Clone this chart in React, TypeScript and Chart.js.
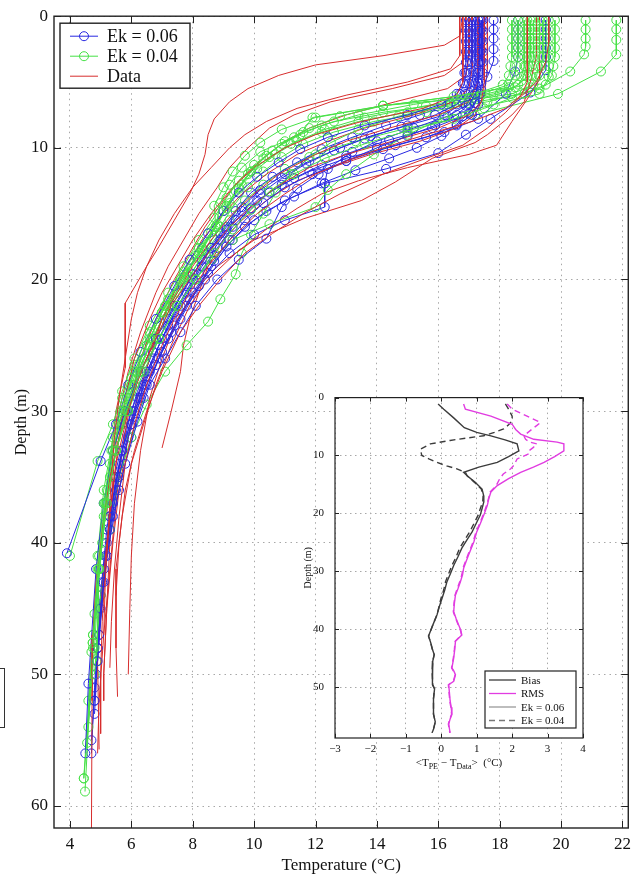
import React, { useEffect, useRef } from "react";
import { Chart, registerables } from "chart.js";

Chart.register(...registerables);

// Each profile point is [depth (m), temperature (°C)]
type Pt = [number, number];

const tempTicks = [4, 6, 8, 10, 12, 14, 16, 18, 20, 22];
const depthTicks = [0, 10, 20, 30, 40, 50, 60];

// Model profiles, Ek = 0.06
const ek06Profiles: Pt[][] = [
  [[0.3,17.2],[1,17.2],[1.8,17.2],[2.6,17.2],[3.4,17.2],[4.2,17.15],[5,17.1],[5.8,17.0],[6.6,16.8],[7.5,16.2],[8.3,15.0],[9.1,13.8],[10,12.8],[11,11.8],[12,11.0],[13.2,10.2],[14.5,9.6],[16,9.1],[18,8.5],[20,8.0],[22.5,7.4],[25,6.9],[28,6.4],[31,6.0],[35,5.5],[40,5.2],[47,4.95],[52,4.8]],
  [[0.3,17.0],[1.1,17.0],[1.9,17.0],[2.7,17.0],[3.5,16.95],[4.3,16.9],[5.1,16.85],[5.9,16.7],[6.7,16.3],[7.5,15.4],[8.3,14.3],[9.2,13.2],[10.1,12.2],[11.1,11.4],[12.2,10.6],[13.4,9.9],[14.8,9.4],[16.5,8.9],[18.5,8.3],[20.5,7.8],[23,7.2],[25.5,6.7],[28.5,6.2],[31.5,5.8],[35,5.45],[39,5.2],[45,4.95],[51,4.8],[56,4.7]],
  [[0.3,17.4],[1,17.4],[1.8,17.4],[2.6,17.4],[3.4,17.4],[4.2,17.35],[5,17.3],[5.8,17.25],[6.6,17.2],[7.4,17.0],[8.2,16.6],[9.1,16.1],[10,15.3],[10.8,14.4],[11.7,13.3],[12.7,12.2],[13.7,11.3],[14.8,10.4],[16,9.7],[17.5,9.1],[19.5,8.5],[21.5,7.9],[24,7.3],[26.5,6.8],[29,6.3],[32,5.9],[36,5.5],[41,5.15],[48,4.9],[55,4.7]],
  [[0.3,19.5],[1,19.5],[1.7,19.5],[2.4,19.5],[3.1,19.5],[4.1,19.5],[5.8,19.0],[7.8,17.7],[9,16.9],[10.4,16.0],[11.6,14.3],[12.7,12.3],[14,11.0],[15.5,10.0],[17,9.3],[19,8.6],[21,8.0],[23.5,7.4],[26,6.9],[29,6.4],[32,6.0],[36,5.6],[41,5.2],[47,4.95],[53,4.8]],
  [[0.3,18.6],[1,18.6],[1.7,18.6],[2.4,18.6],[3.1,18.6],[4.2,18.5],[5.9,18.2],[7.8,17.3],[8.8,16.2],[9.8,14.6],[10.8,13.0],[11.8,11.8],[12.8,10.9],[14,10.1],[15.5,9.4],[17,8.9],[19,8.3],[21,7.8],[23.5,7.2],[26,6.7],[29,6.2],[33,5.7],[38,5.3],[44,5.0],[50,4.85]],
  [[0.3,17.8],[1,17.8],[1.7,17.8],[2.5,17.8],[3.4,17.8],[4.6,17.6],[5.6,17.4],[6.6,17.2],[7.6,16.8],[8.5,15.8],[9.4,14.4],[10.3,13.2],[11.3,12.2],[12.3,11.3],[13.4,10.5],[14.6,9.9],[16,9.3],[17.6,8.8],[19.6,8.2],[22,7.6],[24.5,7.0],[27,6.5],[30,6.0],[34,5.6],[38,5.3],[43,5.05],[48,4.9]],
  [[0.3,17.3],[1.1,17.3],[1.9,17.3],[2.7,17.3],[3.5,17.3],[4.3,17.25],[5.1,17.2],[6,17.1],[6.8,16.9],[7.6,16.3],[8.5,15.2],[9.5,14.0],[10.6,13.0],[11.6,12.4],[12.7,12.3],[14.5,12.3],[15.5,11.0],[16.6,10.0],[18,9.2],[20,8.4],[22,7.8],[24.5,7.2],[27,6.6],[30,6.1],[33,5.7],[37,5.4],[42,5.1],[48,4.9]],
  [[0.3,16.9],[1.1,16.9],[1.9,16.9],[2.7,16.9],[3.5,16.9],[4.3,16.85],[5.1,16.8],[5.9,16.6],[6.7,16.1],[7.5,15.0],[8.3,13.6],[9.2,12.4],[10.1,11.5],[11.1,10.8],[12.2,10.1],[13.4,9.5],[14.8,9.0],[16.5,8.5],[18.5,7.9],[20.5,7.4],[23,6.8],[25.5,6.3],[28,5.9],[31,5.5],[33.8,5.0],[40.8,3.9]],
  [[0.3,17.1],[1.1,17.1],[1.9,17.1],[2.7,17.1],[3.5,17.1],[4.3,17.05],[5.1,17.0],[5.9,16.9],[6.7,16.6],[7.5,15.9],[8.4,14.8],[9.3,13.6],[10.2,12.6],[11.2,11.7],[12.3,10.9],[13.5,10.2],[14.8,9.6],[16.2,9.1],[17.6,8.6],[19.6,8.0],[22,7.4],[24.5,6.8],[27,6.3],[30,5.8],[33,5.4],[37,5.1],[42,4.85],[50.7,4.6],[56,4.5]],
  [[0.3,17.45],[1.1,17.45],[1.9,17.45],[2.7,17.45],[3.5,17.45],[4.3,17.45],[5.1,17.4],[5.9,17.35],[6.7,17.3],[7.5,17.1],[8.3,16.6],[9.2,15.6],[10.1,14.2],[11,13.0],[12,11.9],[13,11.0],[14.2,10.3],[15.5,9.7],[17,9.2],[18.6,8.7],[20.5,8.2],[23,7.6],[25.5,7.0],[28,6.5],[31,6.0],[35,5.6],[39,5.3],[45,5.0],[52,4.8]],
  [[0.3,17.35],[1.1,17.35],[1.9,17.35],[2.7,17.35],[3.5,17.35],[4.3,17.3],[5.1,17.3],[5.9,17.2],[6.7,17.0],[7.5,16.6],[8.3,15.9],[9.1,15.0],[10,14.0],[11,13.0],[12,12.1],[13.1,11.4],[14.5,10.9],[16.9,10.4],[18.5,9.5],[20,8.8],[22,8.1],[24,7.6],[26,7.1],[28,6.6],[30.8,6.2],[34,5.8],[38,5.4],[43,5.1],[49,4.9]],
];

// Model profiles, Ek = 0.04
const ek04Profiles: Pt[][] = [
  [[0.3,21.8],[1,21.8],[1.8,21.8],[2.9,21.8],[4.2,21.3],[5.9,19.9],[7.5,17.2],[8.5,15.0],[9.5,13.3],[10.5,12.0],[11.6,11.0],[12.8,10.3],[14,9.7],[15.5,9.2],[17,8.7],[19,8.1],[21,7.5],[23.5,6.9],[26,6.4],[29,5.9],[32,5.5],[36,5.2],[41,4.95],[47,4.75],[52,4.6]],
  [[0.3,20.8],[1,20.8],[1.7,20.8],[2.3,20.8],[2.9,20.75],[4.2,20.3],[5.5,19.3],[6.5,17.6],[7.3,15.6],[8,13.9],[8.8,12.6],[9.7,11.6],[10.7,10.9],[11.8,10.3],[13,9.8],[14.5,9.3],[16,8.9],[17.8,8.4],[19.8,7.9],[22,7.3],[24.5,6.8],[27,6.3],[30,5.9],[33,5.5],[37,5.2],[42,4.95],[48.3,4.7],[55.2,4.56]],
  [[0.3,19.8],[1,19.8],[1.7,19.8],[2.4,19.8],[3.1,19.8],[3.8,19.75],[4.5,19.7],[5.2,19.5],[5.9,18.8],[6.6,17.0],[7.3,15.0],[8,13.4],[8.8,12.2],[9.7,11.2],[10.7,10.5],[11.8,9.9],[13,9.5],[14.4,9.1],[16,8.75],[18,8.2],[20,7.7],[22.5,7.1],[25,6.6],[28,6.1],[31,5.7],[35,5.3],[40,5.05],[47.6,4.74],[57.9,4.45]],
  [[0.3,19.4],[1,19.4],[1.7,19.4],[2.4,19.4],[3.1,19.4],[3.8,19.35],[4.5,19.3],[5.2,19.1],[5.9,18.4],[6.6,16.4],[7.3,14.2],[8,12.6],[8.8,11.6],[9.7,10.9],[10.8,10.3],[12,9.8],[13.3,9.4],[14.8,9.0],[16.4,8.6],[18.2,8.1],[20.2,7.6],[22.5,7.0],[25,6.5],[28,6.0],[31,5.6],[34,5.3],[38,5.1],[45.4,4.8],[58.9,4.49]],
  [[0.3,19.1],[1,19.1],[1.7,19.1],[2.4,19.1],[3.1,19.1],[3.8,19.05],[4.5,19.0],[5.2,18.8],[5.9,17.8],[6.8,15.6],[7.7,13.6],[8.6,12.3],[9.5,11.4],[10.5,10.7],[11.6,10.1],[12.8,9.6],[14.2,9.2],[15.8,8.8],[17.6,8.3],[19.6,7.8],[22,7.2],[24.5,6.7],[27,6.2],[30,5.8],[33,5.4],[37,5.15],[42,4.95],[49,4.87]],
  [[0.3,18.9],[1,18.9],[1.7,18.9],[2.4,18.9],[3.1,18.9],[3.8,18.85],[4.5,18.8],[5.2,18.6],[5.9,18.0],[6.7,16.4],[7.6,14.7],[8.6,13.4],[9.6,12.5],[10.7,11.8],[12,11.2],[13.4,10.7],[15,10.3],[16.6,9.9],[18,9.6],[19.6,9.4],[21.5,8.9],[23.2,8.5],[25,7.8],[27,7.1],[29.5,6.5],[32,6.0],[35,5.6],[39,5.3],[44,5.0],[50,4.8]],
  [[0.3,18.6],[1,18.6],[1.7,18.6],[2.4,18.6],[3.1,18.6],[3.8,18.55],[4.5,18.5],[5.2,18.3],[5.9,17.4],[6.7,15.2],[7.5,13.4],[8.3,12.2],[9.2,11.3],[10.2,10.6],[11.3,10.0],[12.5,9.5],[13.8,9.1],[15.3,8.7],[17,8.2],[19,7.7],[21,7.2],[23.5,6.6],[26,6.1],[28.5,5.7],[31,5.4],[33.8,4.9],[41,4.0]],
  [[0.3,18.4],[1,18.4],[1.7,18.4],[2.4,18.4],[3.1,18.4],[3.8,18.35],[4.5,18.3],[5.2,18.1],[5.9,17.2],[6.8,14.2],[7.7,12.0],[8.6,10.9],[9.6,10.2],[10.6,9.7],[11.8,9.3],[13,9.0],[14.4,8.7],[16,8.75],[17.6,8.2],[19.4,7.7],[21.5,7.2],[24,6.6],[26.5,6.1],[29,5.7],[32,5.4],[36,5.1],[41,4.9],[47,4.75],[54,4.6]],
  [[0.3,19.6],[1,19.6],[1.7,19.6],[2.4,19.6],[3.1,19.6],[3.8,19.6],[4.6,19.6],[5.9,19.3],[6.7,17.8],[7.7,16.2],[9,15.0],[10.5,13.9],[12,13.0],[13.2,12.4],[14.5,12.0],[15.8,10.5],[17,9.3],[18.5,8.6],[20,8.1],[22,7.5],[24.5,6.9],[27,6.4],[30,5.9],[33,5.5],[37,5.2],[42,4.95],[48,4.75]],
  [[0.3,19.0],[1,19.0],[1.7,19.0],[2.4,19.0],[3.1,19.0],[3.8,18.95],[4.6,18.9],[5.4,18.5],[6.2,17.0],[6.8,14.2],[7.7,11.9],[9,11.5],[10.3,10.2],[11.5,9.6],[12.8,9.2],[14.2,8.9],[16,8.75],[17.8,8.3],[19.8,7.7],[22,7.1],[24.5,6.6],[27,6.1],[30,5.7],[33,5.4],[37,5.15],[42,4.95],[49,4.87]],
  [[0.3,18.8],[1,18.8],[1.7,18.8],[2.4,18.8],[3.1,18.8],[3.8,18.8],[4.6,18.7],[5.4,18.3],[6.1,16.5],[6.8,14.2],[7.6,12.8],[8.5,11.8],[9.5,11.0],[10.6,10.4],[11.8,9.9],[13.1,9.5],[14.6,9.1],[16.2,8.7],[18,8.2],[20,7.6],[22.5,7.0],[25,6.5],[27.5,6.0],[30,5.65],[33,5.35],[37,5.1],[42,4.9],[47.6,4.74]],
  [[0.3,19.3],[1,19.3],[1.7,19.3],[2.4,19.3],[3.1,19.3],[3.8,19.25],[4.6,19.2],[5.4,19.0],[6.2,18.4],[7,17.5],[7.8,16.5],[8.7,15.0],[9.7,13.6],[10.8,12.3],[12,11.3],[13.3,10.5],[14.7,9.9],[16.2,9.3],[18,8.7],[20,8.1],[22,7.5],[24.5,6.9],[27,6.3],[30,5.85],[33,5.5],[37,5.2],[42,4.95],[48,4.8],[57.9,4.45]],
];

// Observed CTD profiles
const dataProfiles: Pt[][] = [
  [[0,16.8],[1.5,16.7],[2.2,16.2],[3,14.2],[3.7,12.0],[4.5,10.8],[5.5,9.8],[6.5,9.2],[7.8,8.7],[9,8.5],[10.5,8.4],[12,8.2],[13.5,7.9],[15.5,7.4],[17.5,6.9],[19,6.5],[21.8,5.8],[26.7,5.8],[30,5.5],[34,5.3],[38,5.2]],
  [[0,16.9],[2,16.9],[3.5,16.8],[4.5,16.2],[5.5,14.5],[6.5,12.5],[7.5,11.3],[8.5,10.5],[10,9.8],[11.5,9.2],[13,8.8],[15,8.2],[17,7.7],[19,7.2],[21,6.8],[24,6.3],[27,5.9],[30,5.6],[35,5.4],[40,5.3],[45,5.2],[50,5.1],[52,5.1]],
  [[0,17.0],[3,17.0],[4.5,16.9],[5.5,16.3],[6.5,14.6],[7.5,13.0],[8.5,11.8],[9.5,11.0],[11,10.2],[12.5,9.5],[14,9.0],[16,8.4],[18,7.9],[20,7.4],[23,6.8],[26,6.3],[29,6.0],[33,5.7],[37,5.5],[42,5.3],[47,5.1],[52,4.95],[56,4.9]],
  [[0,17.1],[4,17.1],[5.5,17.0],[6.5,16.5],[7.5,15.2],[8.5,13.6],[9.5,12.4],[10.5,11.4],[12,10.4],[13.5,9.6],[15,9.0],[17,8.3],[19,7.8],[21,7.4],[23,7.0],[26,6.6],[29,6.2],[32,5.9],[36,5.6],[40,5.4],[45,5.2],[50,5.1]],
  [[0,17.6],[4,17.6],[6,17.5],[7.5,17.2],[8.5,16.6],[9.5,15.4],[10.5,13.8],[11.5,12.5],[12.5,11.4],[14,10.4],[15.5,9.6],[17,9.0],[19,8.5],[21,8.2],[23,7.9],[25,7.7],[27,7.6],[30,7.3],[32.8,7.0]],
  [[0,19.2],[3,19.2],[5,19.0],[6.5,18.8],[7.5,18.4],[9,17.6],[9.6,17.2],[10.8,15.8],[12.6,14.6],[14,13.5],[15.4,11.6],[17,10.0],[19,8.8],[20.5,8.2],[23,7.5],[26,7.0],[29,6.6],[33,6.3],[37,6.1],[41,6.0],[45,5.95],[50,5.9]],
  [[0,19.3],[4.8,19.3],[6.3,18.9],[8,18.4],[9.8,17.9],[10.5,17.0],[11.5,15.0],[12.5,13.4],[13.5,12.2],[14.6,11.4],[16,10.5],[18,9.4],[20,8.5],[22,7.9],[25,7.3],[28,6.8],[31,6.4],[34,6.0],[38,5.7],[42,5.5],[48,5.5],[51.7,5.55]],
  [[0,16.8],[5,16.8],[6,16.6],[7,15.5],[8,13.5],[9,12.0],[10,11.0],[11.5,10.0],[13,9.3],[15,8.6],[17,8.0],[19,7.5],[21,7.0],[23,6.6],[26,6.1],[29,5.8],[32,5.6],[36,5.4],[40,5.2],[45,5.0],[49,4.9],[55.7,4.95]],
  [[0,17.3],[5,17.3],[6.5,17.0],[7.5,16.0],[8.5,14.4],[9.5,13.0],[10.5,12.0],[12,10.8],[13.5,10.0],[15,9.3],[17,8.6],[19,8.0],[21,7.5],[23,7.0],[26,6.5],[29,6.0],[32,5.6],[35,5.3],[39,5.05],[43,4.85],[47,4.75],[52,4.72],[62,4.7]],
  [[0,17.5],[5,17.5],[6.5,17.4],[7.5,17.0],[8.5,16.0],[9.5,14.5],[10.5,13.0],[11.5,11.8],[13,10.7],[14.5,9.9],[16,9.2],[18,8.5],[20,7.9],[22,7.3],[24.5,6.8],[27,6.3],[30,5.9],[34,5.5],[38,5.3],[42,5.15],[46,5.05],[50,5.0],[54.5,5.0]],
  [[0,16.7],[3,16.7],[4,16.4],[5,15.0],[6,13.0],[7,11.4],[8,10.4],[9,9.7],[10,9.2],[11.5,8.6],[13,8.0],[15,7.4],[17,6.9],[19,6.5],[21,6.2],[23,6.0],[26,5.8],[29,5.6],[32,5.45],[35,5.35],[39,5.25],[43,5.15],[47,5.1]],
  [[0,18.9],[5,18.9],[6,18.7],[7,18.2],[8,17.1],[9,15.6],[10,14.2],[11,13.0],[12,12.0],[13.5,11.0],[15,10.1],[17,9.2],[19,8.5],[21,7.9],[23,7.4],[25,7.0],[28,6.5],[31,6.1],[34,5.8],[38,5.6],[42,5.45],[46,5.35],[49.5,5.3]],
  [[0,19.6],[2,19.6],[3.5,19.5],[5,19.2],[6.3,18.6],[7.3,18.2],[8.5,17.6],[9.8,16.8],[10.8,15.6],[12,14.2],[13.5,12.8],[15,11.6],[16.5,10.6],[18,9.7],[20,8.9],[22,8.2],[24,7.6],[27,7.0],[30,6.5],[33,6.1],[36,5.8],[40,5.6],[44,5.5]],
];

// Inset: mean error statistics, points are [depth (m), value (°C)]
const insetErrTicks = [-3, -2, -1, 0, 1, 2, 3, 4];
const insetDepthTicks = [0, 10, 20, 30, 40, 50];

const biasEk06: Pt[] = [[1.1,-0.09],[2,0.07],[3.5,0.35],[5.2,0.65],[6,1.0],[6.6,1.4],[7.3,1.8],[8,2.14],[9.2,2.19],[10.2,1.9],[11.2,1.58],[12,1.06],[12.9,0.63],[13.5,0.73],[14.6,0.95],[15.8,1.15],[17,1.2],[18,1.2],[19.2,1.15],[20.3,1.1],[21.8,0.98],[23.2,0.87],[24.6,0.72],[26,0.58],[27.5,0.47],[29,0.35],[30.4,0.26],[31.8,0.16],[33.2,0.1],[34.7,0.02],[36,-0.05],[37.5,-0.12],[39,-0.22],[40.4,-0.31],[41.2,-0.36],[42.3,-0.3],[43.3,-0.26],[44.4,-0.2],[45.5,-0.24],[47.3,-0.26],[49.6,-0.24],[50.3,-0.19],[52,-0.22],[54.7,-0.22],[56,-0.17],[57.3,-0.22],[57.9,-0.26]];
const biasEk04: Pt[] = [[1.1,1.81],[2,1.9],[3.2,2.0],[4,2.0],[4.7,1.9],[5.4,1.76],[6,1.5],[6.6,1.2],[7,0.7],[7.4,0.25],[8,-0.31],[8.9,-0.59],[10,-0.55],[10.6,-0.35],[11.2,-0.12],[11.8,0.15],[12.3,0.44],[12.9,0.68],[13.5,0.73],[14.6,0.93],[15.8,1.13],[17,1.18],[18,1.17],[19.2,1.1],[20.3,1.04],[21.8,0.92],[23.2,0.8],[24.6,0.66],[26,0.52],[27.5,0.42],[29,0.3],[30.4,0.21],[31.8,0.12],[33.2,0.07],[34.7,-0.01],[36,-0.06],[37.5,-0.12],[39,-0.22],[40.4,-0.31],[41.2,-0.36],[42.3,-0.3],[43.3,-0.26],[44.4,-0.2],[45.5,-0.24],[47.3,-0.26],[49.6,-0.24],[50.3,-0.19],[52,-0.22],[54.7,-0.22],[56,-0.17],[57.3,-0.22],[57.9,-0.26]];
const rmsEk06: Pt[] = [[1.1,0.63],[2,0.68],[3.2,1.4],[4.6,2.0],[5.5,2.1],[6.3,2.24],[7.2,2.61],[7.7,3.27],[8,3.46],[9.2,3.46],[10.2,3.2],[11.2,2.9],[12,2.6],[12.9,2.24],[14,1.9],[15.2,1.58],[16.3,1.4],[17.5,1.34],[18.6,1.3],[20.3,1.2],[21.8,1.1],[23.2,1.0],[24.9,0.92],[26,0.85],[27.2,0.77],[28.3,0.7],[29.5,0.63],[30.6,0.6],[31.8,0.54],[33,0.47],[34.1,0.4],[35.5,0.37],[37,0.35],[38.2,0.42],[39.3,0.49],[40.2,0.55],[41,0.58],[41.5,0.5],[42.1,0.4],[43.5,0.38],[45,0.35],[46.7,0.3],[47.3,0.36],[47.9,0.4],[49,0.35],[49.6,0.21],[51,0.23],[52.4,0.25],[53.5,0.28],[54.7,0.3],[55.5,0.25],[56.4,0.21],[57.2,0.23],[57.9,0.25]];
const rmsEk04: Pt[] = [[1.1,1.86],[2,2.0],[3.2,2.42],[4.3,2.8],[4.8,2.7],[5.4,2.57],[6.6,2.33],[7.2,2.38],[7.7,2.5],[8,2.7],[8.6,2.6],[9.2,2.47],[9.7,2.47],[10.6,2.14],[11.7,2.05],[12.3,1.96],[13.2,1.75],[14,1.65],[15.2,1.55],[16.3,1.38],[17.5,1.33],[18.6,1.28],[20.3,1.18],[21.8,1.08],[23.2,0.98],[24.9,0.9],[26,0.83],[27.2,0.75],[28.3,0.68],[29.5,0.61],[30.6,0.58],[31.8,0.52],[33,0.45],[34.1,0.39],[35.5,0.36],[37,0.34],[38.2,0.41],[39.3,0.48],[40.2,0.54],[41,0.57],[41.5,0.49],[42.1,0.39],[43.5,0.37],[45,0.34],[46.7,0.29],[47.3,0.35],[47.9,0.39],[49,0.34],[49.6,0.2],[51,0.22],[52.4,0.24],[53.5,0.27],[54.7,0.29],[55.5,0.24],[56.4,0.2],[57.2,0.22],[57.9,0.24]];

const SERIF = "'Liberation Serif', 'DejaVu Serif', 'Times New Roman', serif";
const BLUE = "rgb(40,40,225)";
const GREEN = "rgb(70,225,70)";
const RED = "rgb(215,45,45)";
const BIAS = "rgb(60,60,60)";
const RMS = "rgb(225,60,225)";
const GRID = "#a8a8a8";

const toXY = (p: Pt[]) => p.map(([d, v]) => ({ x: v, y: d }));

// Frame with inward tick marks drawn on the chart area
function drawFrame(chart: any, tickLen: number, lw: number) {
  const { ctx, chartArea: a, scales } = chart;
  ctx.save();
  ctx.strokeStyle = "#222";
  ctx.lineWidth = lw;
  ctx.strokeRect(a.left, a.top, a.right - a.left, a.bottom - a.top);
  ctx.lineWidth = 1;
  ctx.beginPath();
  for (const t of scales.x.ticks) {
    const px = Math.round(scales.x.getPixelForValue(t.value)) + 0.5;
    ctx.moveTo(px, a.top); ctx.lineTo(px, a.top + tickLen);
    ctx.moveTo(px, a.bottom); ctx.lineTo(px, a.bottom - tickLen);
  }
  for (const t of scales.y.ticks) {
    const py = Math.round(scales.y.getPixelForValue(t.value)) + 0.5;
    ctx.moveTo(a.left, py); ctx.lineTo(a.left + tickLen, py);
    ctx.moveTo(a.right, py); ctx.lineTo(a.right - tickLen, py);
  }
  ctx.stroke();
  ctx.restore();
}

const mainDecor = {
  id: "mainDecor",
  afterDatasetsDraw(chart: any) {
    drawFrame(chart, 7, 1.4);
    const { ctx, chartArea: a } = chart;
    const bx = a.left + 6, by = a.top + 7, bw = 130, bh = 65;
    ctx.save();
    ctx.fillStyle = "#fff";
    ctx.fillRect(bx, by, bw, bh);
    ctx.strokeStyle = "#222";
    ctx.lineWidth = 1.4;
    ctx.strokeRect(bx, by, bw, bh);
    const items = [
      { label: "Ek = 0.06", color: BLUE, marker: true },
      { label: "Ek = 0.04", color: GREEN, marker: true },
      { label: "Data", color: RED, marker: false },
    ];
    ctx.font = `18px ${SERIF}`;
    ctx.textBaseline = "middle";
    items.forEach((it, i) => {
      const y = by + 13 + i * 20;
      ctx.strokeStyle = it.color;
      ctx.lineWidth = 1;
      ctx.beginPath();
      ctx.moveTo(bx + 10, y); ctx.lineTo(bx + 38, y);
      ctx.stroke();
      if (it.marker) {
        ctx.beginPath();
        ctx.arc(bx + 24, y, 4.5, 0, Math.PI * 2);
        ctx.stroke();
      }
      ctx.fillStyle = "#111";
      ctx.fillText(it.label, bx + 47, y + 1);
    });
    ctx.restore();
  },
};

const insetDecor = {
  id: "insetDecor",
  beforeDraw(chart: any) {
    const { ctx, chartArea: a } = chart;
    ctx.save();
    ctx.fillStyle = "#fff";
    ctx.fillRect(a.left, a.top, a.right - a.left, a.bottom - a.top);
    ctx.restore();
  },
  afterDatasetsDraw(chart: any) {
    drawFrame(chart, 4, 1.2);
    const { ctx, chartArea: a } = chart;
    ctx.save();
    // legend
    const bw = 91, bh = 57;
    const bx = a.right - 98, by = a.bottom - 67;
    ctx.fillStyle = "#fff";
    ctx.fillRect(bx, by, bw, bh);
    ctx.strokeStyle = "#222";
    ctx.lineWidth = 1.2;
    ctx.strokeRect(bx, by, bw, bh);
    const items = [
      { label: "Bias", color: BIAS, dash: [] as number[] },
      { label: "RMS", color: RMS, dash: [] as number[] },
      { label: "Ek = 0.06", color: "#9a9a9a", dash: [] as number[] },
      { label: "Ek = 0.04", color: "#777", dash: [6, 4] },
    ];
    ctx.font = `11px ${SERIF}`;
    ctx.textBaseline = "middle";
    items.forEach((it, i) => {
      const y = by + 9 + i * 13.5;
      ctx.strokeStyle = it.color;
      ctx.lineWidth = 1.3;
      ctx.setLineDash(it.dash);
      ctx.beginPath();
      ctx.moveTo(bx + 4, y); ctx.lineTo(bx + 31, y);
      ctx.stroke();
      ctx.setLineDash([]);
      ctx.fillStyle = "#111";
      ctx.fillText(it.label, bx + 36, y + 1);
    });
    // x-axis label with subscripts
    const parts: [string, boolean][] = [
      ["<T", false], ["PE", true], [" − T", false], ["Data", true], [">  (°C)", false],
    ];
    const big = `11px ${SERIF}`, small = `8px ${SERIF}`;
    let total = 0;
    parts.forEach(([s, sub]) => { ctx.font = sub ? small : big; total += ctx.measureText(s).width; });
    let x = (a.left + a.right) / 2 - total / 2;
    const yb = a.bottom + 28;
    ctx.textBaseline = "alphabetic";
    ctx.fillStyle = "#111";
    parts.forEach(([s, sub]) => {
      ctx.font = sub ? small : big;
      ctx.fillText(s, x, sub ? yb + 3 : yb);
      x += ctx.measureText(s).width;
    });
    ctx.restore();
  },
};

function MainChart() {
  const ref = useRef<HTMLCanvasElement>(null);
  useEffect(() => {
    if (!ref.current) return;
    const sets: any[] = [];
    const n = Math.max(ek06Profiles.length, ek04Profiles.length, dataProfiles.length);
    const modelStyle = (color: string) => ({
      borderColor: color,
      borderWidth: 1,
      pointRadius: 4.5,
      pointBorderWidth: 1,
      pointBorderColor: color,
      pointBackgroundColor: "rgba(0,0,0,0)",
      showLine: true,
      tension: 0,
    });
    for (let i = 0; i < n; i++) {
      if (ek06Profiles[i]) sets.push({ label: "Ek = 0.06", data: toXY(ek06Profiles[i]), ...modelStyle(BLUE) });
      if (ek04Profiles[i]) sets.push({ label: "Ek = 0.04", data: toXY(ek04Profiles[i]), ...modelStyle(GREEN) });
      if (dataProfiles[i])
        sets.push({ label: "Data", data: toXY(dataProfiles[i]), borderColor: RED, borderWidth: 1, pointRadius: 0, showLine: true, tension: 0 });
    }
    // later stations are painted on top
    sets.reverse();
    const chart = new Chart(ref.current, {
      type: "scatter",
      data: { datasets: sets },
      plugins: [mainDecor],
      options: {
        animation: false,
        responsive: false,
        devicePixelRatio: 1,
        events: [],
        layout: { padding: { top: 14, right: 4, left: 0, bottom: 0 } },
        plugins: { legend: { display: false }, tooltip: { enabled: false } },
        scales: {
          x: {
            type: "linear",
            min: 3.48,
            max: 22.19,
            afterBuildTicks: (s: any) => { s.ticks = tempTicks.map((v) => ({ value: v })); },
            afterFit: (s: any) => { s.height = 51; },
            ticks: { font: { family: SERIF, size: 17 }, color: "#111", padding: 6, maxRotation: 0, autoSkip: false, callback: (v: any) => String(v) },
            grid: { color: GRID, lineWidth: 1, drawTicks: false },
            border: { display: false, dash: [1.5, 4] },
            title: { display: true, text: "Temperature (°C)", font: { family: SERIF, size: 17 }, color: "#111", padding: { top: 0, bottom: 3 } },
          },
          y: {
            type: "linear",
            reverse: true,
            min: 0,
            max: 61.67,
            afterBuildTicks: (s: any) => { s.ticks = depthTicks.map((v) => ({ value: v })); },
            afterFit: (s: any) => { s.width = 54; },
            ticks: { font: { family: SERIF, size: 17 }, color: "#111", padding: 6, autoSkip: false, callback: (v: any) => String(v) },
            grid: { color: GRID, lineWidth: 1, drawTicks: false },
            border: { display: false, dash: [1.5, 4] },
            title: { display: true, text: "Depth (m)", font: { family: SERIF, size: 16 }, color: "#111", padding: { top: 12, bottom: 0 } },
          },
        },
      } as any,
    });
    return () => chart.destroy();
  }, []);
  return <canvas ref={ref} width={637} height={879} style={{ position: "absolute", left: 0, top: 0 }} />;
}

function InsetChart() {
  const ref = useRef<HTMLCanvasElement>(null);
  useEffect(() => {
    if (!ref.current) return;
    const line = (data: Pt[], color: string, dash: number[]) => ({
      data: toXY(data),
      borderColor: color,
      borderWidth: 1.4,
      borderDash: dash,
      pointRadius: 0,
      showLine: true,
      tension: 0,
    });
    const chart = new Chart(ref.current, {
      type: "scatter",
      data: {
        datasets: [
          line(rmsEk04, RMS, [6, 4]),
          line(rmsEk06, RMS, []),
          line(biasEk04, BIAS, [6, 4]),
          line(biasEk06, BIAS, []),
        ],
      },
      plugins: [insetDecor],
      options: {
        animation: false,
        responsive: false,
        devicePixelRatio: 1,
        events: [],
        layout: { padding: { top: 15, right: 37, left: 0, bottom: 0 } },
        plugins: { legend: { display: false }, tooltip: { enabled: false } },
        scales: {
          x: {
            type: "linear",
            min: -3,
            max: 4,
            afterBuildTicks: (s: any) => { s.ticks = insetErrTicks.map((v) => ({ value: v })); },
            afterFit: (s: any) => { s.height = 42; },
            ticks: { font: { family: SERIF, size: 11 }, color: "#111", padding: 5, maxRotation: 0, autoSkip: false, callback: (v: any) => String(v).replace("-", "−") },
            grid: { color: GRID, lineWidth: 1, drawTicks: false },
            border: { display: false, dash: [1.5, 3.5] },
          },
          y: {
            type: "linear",
            reverse: true,
            min: 0,
            max: 58.8,
            afterBuildTicks: (s: any) => { s.ticks = insetDepthTicks.map((v) => ({ value: v })); },
            afterFit: (s: any) => { s.width = 45; },
            ticks: { font: { family: SERIF, size: 11 }, color: "#111", padding: 11, autoSkip: false, callback: (v: any) => String(v) },
            grid: { color: GRID, lineWidth: 1, drawTicks: false },
            border: { display: false, dash: [1.5, 3.5] },
            title: { display: true, text: "Depth (m)", font: { family: SERIF, size: 10 }, color: "#111", padding: { top: 12, bottom: 0 } },
          },
        },
      } as any,
    });
    return () => chart.destroy();
  }, []);
  return <canvas ref={ref} width={330} height={400} style={{ position: "absolute", left: 290, top: 380 }} />;
}

export default function App() {
  return (
    <div style={{ position: "absolute", left: 0, top: 0, width: 637, height: 879, background: "#fff", overflow: "hidden" }}>
      <div style={{ position: "absolute", left: -2, top: 668, width: 7, height: 60, border: "1px solid #333", boxSizing: "border-box" }} />
      <MainChart />
      <InsetChart />
    </div>
  );
}
